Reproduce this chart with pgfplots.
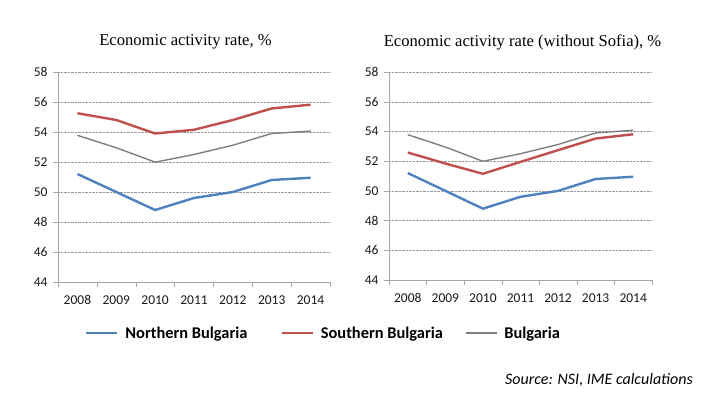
\documentclass[border=0pt]{standalone}
\usepackage{pgfplots}
\pgfplotsset{compat=1.18}
\usepackage{fontspec}
\setmainfont{Carlito}
\newfontfamily\titlefont{Liberation Serif}
\definecolor{nblue}{HTML}{4F81BD}
\definecolor{sred}{HTML}{C0504D}
\definecolor{bgray}{HTML}{7F7F7F}
\tikzset{
  nline/.style={color=nblue, line width=2.4pt},
  sline/.style={color=sred, line width=2.4pt},
  gline/.style={color=bgray, line width=1.4pt},
}
\pgfplotsset{
  base/.style={
    scale only axis,
    axis x line*=bottom, axis y line*=left,
    axis line style={draw=black!35},
    xmin=-0.5, xmax=6.5, ymin=44, ymax=58,
    ytick={44,46,...,58},
    xtick={0,...,6},
    xticklabels={2008,2009,2010,2011,2012,2013,2014},
    minor xtick={-0.5,0.5,...,6.5},
    major x tick style={draw=none},
    minor x tick style={draw=black!35},
    y tick style={draw=black!35},
    tick align=outside,
    major tick length=5pt, minor tick length=5pt,
    ymajorgrids, grid style={densely dotted, draw=black!40},
    /pgf/number format/assume math mode=true,
    tick label style={font=\fontsize{13.5}{15}\selectfont, text=black!90},
    xticklabel style={yshift=-5pt},
    yticklabel style={xshift=-2pt},
    clip=false,
  },
}
\begin{document}
\begin{tikzpicture}
\path[use as bounding box] (0pt,0pt) rectangle (709pt,-396pt);
\begin{axis}[base, at={(58pt,-282pt)}, anchor=south west, width=272pt, height=210pt,
  legend columns=3,
  legend style={at={(0.0993,-0.2429)}, anchor=west, draw=none, fill=none,
    inner sep=0pt, outer sep=0pt,
    font=\bfseries\fontsize{16.4}{18}\selectfont,
    nodes={inner sep=0pt, anchor=west},
    /tikz/every odd column/.append style={column sep=7pt},
    /tikz/column 2/.append style={column sep=33pt},
    /tikz/column 4/.append style={column sep=22pt}},
  legend image code/.code={\draw[#1] (0pt,0pt) -- (31pt,0pt);},
]
\addplot[nline] coordinates {(0,51.2) (1,50.0) (2,48.8) (3,49.6) (4,50.0) (5,50.8) (6,50.95)};
\addlegendentry{Northern Bulgaria}
\addplot[sline] coordinates {(0,55.25) (1,54.8) (2,53.9) (3,54.15) (4,54.8) (5,55.57) (6,55.82)};
\addlegendentry{Southern Bulgaria}
\addplot[gline] coordinates {(0,53.78) (1,52.95) (2,51.99) (3,52.5) (4,53.12) (5,53.9) (6,54.06)};
\addlegendentry{Bulgaria}
\end{axis}
\begin{axis}[base, at={(389pt,-280pt)}, anchor=south west, width=263pt, height=208pt]
\addplot[nline] coordinates {(0,51.2) (1,50.0) (2,48.8) (3,49.6) (4,50.0) (5,50.8) (6,50.95)};
\addplot[sline] coordinates {(0,52.58) (1,51.84) (2,51.15) (3,51.95) (4,52.74) (5,53.52) (6,53.81)};
\addplot[gline] coordinates {(0,53.78) (1,52.95) (2,51.99) (3,52.5) (4,53.12) (5,53.9) (6,54.08)};
\end{axis}
\node[font=\titlefont\fontsize{16.6}{18}\selectfont] at (185.5pt,-42pt) {Economic activity rate, \%};
\node[font=\titlefont\fontsize{16.6}{18}\selectfont] at (522.5pt,-42pt) {Economic activity rate (without Sofia), \%};
\node[anchor=east, inner sep=0pt, font=\itshape\fontsize{16}{18}\selectfont] at (693pt,-380pt) {Source: NSI, IME calculations};
\end{tikzpicture}
\end{document}
